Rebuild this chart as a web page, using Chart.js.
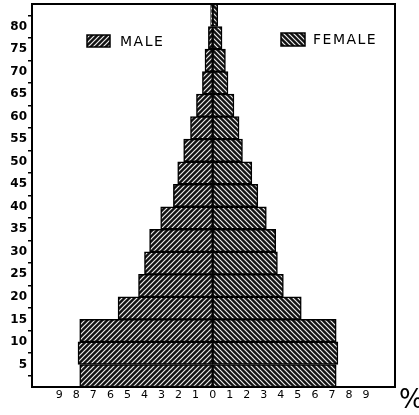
<!DOCTYPE html>
<html>
<head>
<meta charset="utf-8">
<script src="https://cdn.jsdelivr.net/npm/chart.js@4"></script>
<style>
  html, body { margin: 0; padding: 0; background: #fff; }
  #wrap { width: 419px; height: 415px; position: relative; }
</style>
</head>
<body>
<div id="wrap"><canvas id="pyramid"></canvas></div>
<script>
// age groups (lower bound of each 5-year band), bottom to top
const ageGroups = [0, 5, 10, 15, 20, 25, 30, 35, 40, 45, 50, 55, 60, 65, 70, 75, 80];
// percent of population
const male = [7.8, 7.9, 7.8, 5.55, 4.35, 4.0, 3.7, 3.05, 2.3, 2.05, 1.7, 1.3, 0.95, 0.6, 0.45, 0.25, 0.12];
const female = [7.25, 7.35, 7.25, 5.2, 4.15, 3.8, 3.7, 3.15, 2.65, 2.3, 1.75, 1.55, 1.25, 0.9, 0.75, 0.55, 0.3];
const ageTicks = [5, 10, 15, 20, 25, 30, 35, 40, 45, 50, 55, 60, 65, 70, 75, 80];
const pctTicks = [-9, -8, -7, -6, -5, -4, -3, -2, -1, 0, 1, 2, 3, 4, 5, 6, 7, 8, 9];

function hatch(dir) {
  const c = document.createElement("canvas");
  c.width = 5; c.height = 5;
  const g = c.getContext("2d");
  g.fillStyle = "#121212";
  g.fillRect(0, 0, 5, 5);
  g.strokeStyle = "#eeeeee";
  g.lineWidth = 1.2;
  g.beginPath();
  if (dir == "/") {
    g.moveTo(-1, 6); g.lineTo(6, -1);
    g.moveTo(-1, 1); g.lineTo(1, -1);
    g.moveTo(4, 6); g.lineTo(6, 4);
  } else {
    g.moveTo(-1, -1); g.lineTo(6, 6);
    g.moveTo(-1, 4); g.lineTo(1, 6);
    g.moveTo(4, -1); g.lineTo(6, 1);
  }
  g.stroke();
  return g.createPattern(c, "repeat");
}

const maleFill = hatch("/"),
  femaleFill = hatch("\\");

// frame, legend and % sign
const decor = {
  id: "decor",
  afterDatasetsDraw(chart) {
    const ctx = chart.ctx,
      a = chart.chartArea;
    ctx.save();
    ctx.strokeStyle = "#000";
    ctx.lineWidth = 2;
    ctx.strokeRect(a.left, a.top, a.right - a.left, a.bottom - a.top);

    ctx.font = "14px 'DejaVu Sans'";
    ctx.letterSpacing = "1.5px";
    ctx.textBaseline = "middle";
    ctx.lineWidth = 1.5;

    ctx.fillStyle = maleFill;
    ctx.fillRect(a.left + 55, a.top + 31, 23, 12);
    ctx.strokeRect(a.left + 55, a.top + 31, 23, 12);
    ctx.fillStyle = "#000";
    ctx.fillText("MALE", a.left + 88, a.top + 38);

    ctx.fillStyle = femaleFill;
    ctx.fillRect(a.left + 249, a.top + 29, 24, 13);
    ctx.strokeRect(a.left + 249, a.top + 29, 24, 13);
    ctx.fillStyle = "#000";
    ctx.fillText("FEMALE", a.left + 281, a.top + 36);

    ctx.letterSpacing = "0px";
    ctx.font = "26px 'DejaVu Sans'";
    ctx.textAlign = "left";
    ctx.fillText("%", a.right + 4, a.bottom + 14);
    ctx.restore();
  },
};

new Chart(document.getElementById("pyramid"), {
  type: "bar",
  data: {
    datasets: [
      {
        label: "MALE",
        data: ageGroups.map((g, i) => ({ y: g + 2.5, x: -male[i] })),
        backgroundColor: maleFill,
        stack: "pop",
      },
      {
        label: "FEMALE",
        data: ageGroups.map((g, i) => ({ y: g + 2.5, x: female[i] })),
        backgroundColor: femaleFill,
        stack: "pop",
      },
    ],
  },
  options: {
    indexAxis: "y",
    responsive: true,
    maintainAspectRatio: false,
    animation: false,
    datasets: {
      bar: {
        borderColor: "#000",
        borderWidth: 1.5,
        borderSkipped: false,
        barPercentage: 1,
        categoryPercentage: 1,
      },
    },
    layout: { padding: { top: 4, right: 24, left: 0, bottom: 0 } },
    plugins: {
      legend: { display: false },
      tooltip: { enabled: false },
    },
    scales: {
      x: {
        min: -10.6,
        max: 10.7,
        afterBuildTicks: (s) => {
          s.ticks = pctTicks.map((v) => ({ value: v }));
        },
        afterFit: (s) => {
          s.height = 28;
        },
        grid: { display: false, drawTicks: false, tickLength: 0 },
        border: { display: true, color: "#000", width: 2 },
        ticks: {
          color: "#000",
          padding: 2,
          maxRotation: 0,
          autoSkip: false,
          font: { family: "DejaVu Sans", size: 11 },
          callback: (v) => Math.abs(v),
        },
      },
      y: {
        type: "linear",
        position: "left",
        offset: false,
        min: 0,
        max: 85,
        afterBuildTicks: (s) => {
          s.ticks = ageTicks.map((v) => ({ value: v }));
        },
        afterFit: (s) => {
          s.width = 32;
        },
        grid: {
          drawOnChartArea: false,
          color: "#000",
          tickLength: 4,
          lineWidth: 1.5,
        },
        border: { display: true, color: "#000", width: 2 },
        ticks: {
          color: "#000",
          padding: 1,
          autoSkip: false,
          font: { family: "DejaVu Sans", size: 12, weight: "bold", lineHeight: 0.4 },
        },
      },
    },
  },
  plugins: [decor],
});
</script>
</body>
</html>
